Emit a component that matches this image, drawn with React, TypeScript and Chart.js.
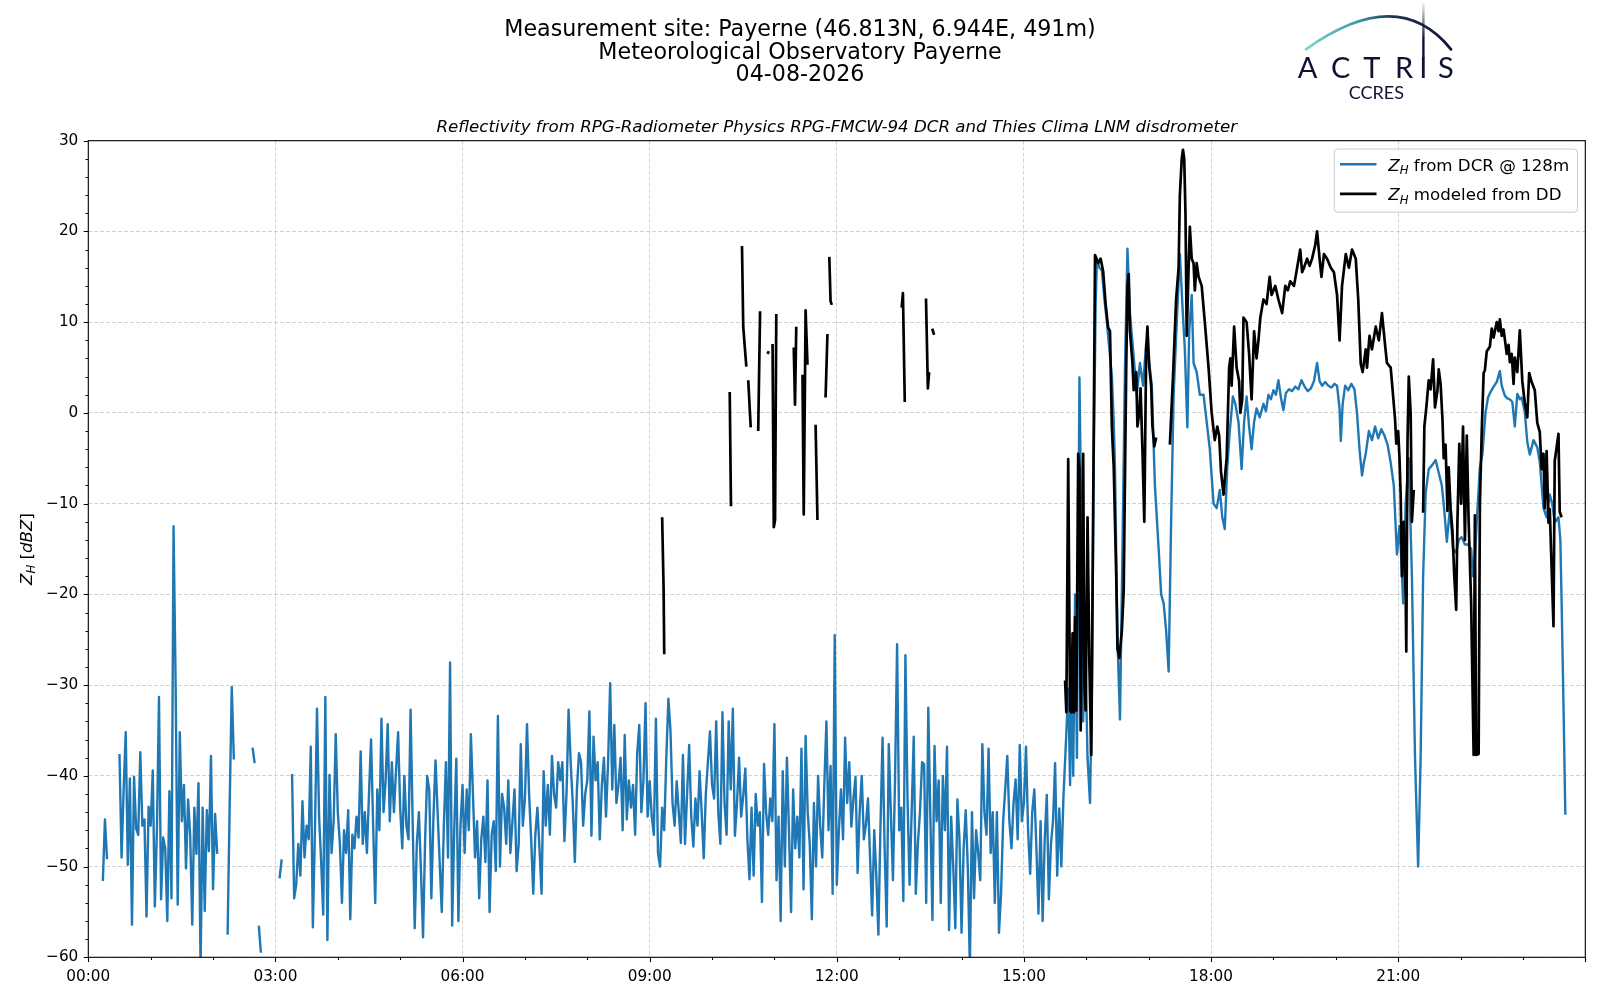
import React, { useEffect, useRef } from "react";
import { Chart, registerables } from "chart.js";

Chart.register(...registerables);

const FONT = "'DejaVu Sans', 'Liberation Sans', sans-serif";

const titleLines = [
  "Measurement site: Payerne (46.813N, 6.944E, 491m)",
  "Meteorological Observatory Payerne",
  "04-08-2026",
];
const subtitle =
  "Reflectivity from RPG-Radiometer Physics RPG-FMCW-94 DCR and Thies Clima LNM disdrometer";
const legendLabels = [" from DCR @ 128m", " modeled from DD"];
const xTickHours = ["00:00", "03:00", "06:00", "09:00", "12:00", "15:00", "18:00", "21:00"];

// DCR reflectivity at 128 m, regular 2-minute grid starting 00:00 (one array per hour)
const dcrH00 = [null, null, null, null, null, null, null, -51.6, -44.8, -49.2, null, null, null, null, null,
  -37.6, -49, -41.5, -35.2, -49.8, -40.3, -56.4, -40.1, -45.8, -46.5, -37.4, -45.5, -44.8, -55.5, -43.4];
const dcrH01 = [-45.5, -39.4, -54.4, -46, -31.3, -53.6, -46.8, -48, -56, -41.7, -53.5, -12.5, -29.9, -54.2, -35.2,
  -45, -41, -50.2, -42.6, -46.5, -56.4, -43.5, -48.6, -40.8, -61, -43.5, -54.9, -43.8, -48.3, -37.8];
const dcrH02 = [-52.5, -44.2, -48.6, null, null, null, null, -57.5, -43.2, -30.2, -38.2, null, null, null, null,
  null, null, null, null, -36.9, -38.6, null, -56.5, -59.5, null, null, null, null, null, null];
const dcrH03 = [null, null, -51.3, -49.2, null, null, null, null, -39.8, -53.5, -52, -47.5, -51, -42.8, -49,
  -45.5, -47, -36.8, -56.7, -46, -32.6, -44.5, -49.5, -55.3, -31.3, -58.1, -39.9, -48.5, -45, -35.4];
const dcrH04 = [-44, -47.5, -54, -46, -48.5, -43.8, -55.8, -46.5, -48, -44.5, -46.8, -37.3, -47.5, -44, -48.5,
  -42, -36, -45.5, -54, -41.5, -46, -33.7, -44, -40.5, -34.3, -45, -38.5, -44, -39.5, -35.2];
const dcrH05 = [-43.5, -48, -40, -45.5, -47, -32.7, -45, -56.8, -47.5, -44, -50.5, -57.8, -47, -40, -41.6,
  -53.5, -44.5, -38.3, -44, -49.5, -55, -45.5, -38.5, -49, -27.5, -56.5, -46, -38.1, -56, -45.5];
const dcrH06 = [-41, -48.5, -41.5, -46, -35.4, -42, -49, -45, -53.5, -47, -44.5, -49.5, -40.5, -55, -46.5,
  -45, -50.5, -33.4, -50, -42, -43.5, -47.5, -40.5, -48.5, -45, -41.5, -50.5, -47.5, -36.5, -45.5];
const dcrH07 = [-42.5, -34.3, -42, -47, -53, -46.5, -43.5, -48, -53, -39.5, -45.5, -41, -46.5, -37.8, -42,
  -43.5, -38.5, -40.5, -38.5, -47.2, -42, -32.7, -38.5, -43, -49.5, -41.5, -37.5, -38.5, -45.5, -42];
const dcrH08 = [-40.5, -32.9, -46.6, -35.7, -40.5, -38.5, -47, -41, -38, -44.5, -38.5, -29.8, -41.5, -34.4, -43,
  -41, -38, -46, -35.5, -44.8, -40.5, -43.5, -41, -46.5, -37.5, -34.4, -44, -40.5, -32, -44.5];
const dcrH09 = [-40.6, -44.5, -46.5, -33.7, -48.5, -50, -43.5, -46, -38, -31.5, -35, -43, -45.5, -40.6, -44,
  -47.4, -37.7, -47.5, -42, -36.6, -44.5, -47.8, -42.5, -45.5, -39.5, -44, -49.1, -42, -38.5, -35.1];
const dcrH10 = [-41, -42.5, -34, -44, -47.5, -33, -43, -46.5, -34, -41.5, -32.6, -46.6, -43, -38, -44.5,
  -42.2, -39.2, -47, -51.4, -43.5, -51, -42, -45.5, -44, -53.9, -38.7, -44, -46.5, -42.5, -45];
const dcrH11 = [-34.3, -51.5, -44.5, -56, -39.5, -50, -38, -46, -55, -41.5, -48, -44.5, -49, -37, -52.5,
  -35.6, -44, -47.5, -55.8, -43, -50, -40, -45.5, -49, -41, -34, -46, -38.9, -53, -24.5];
const dcrH12 = [-52, -46, -41.5, -47, -35.8, -43, -38.5, -45.6, -42.5, -40.1, -50.7, -44, -40, -47, -45.4,
  -42.5, -49, -55.4, -46, -51, -57.5, -45.6, -35.8, -48, -56.6, -36.5, -44, -51.5, -40.5, -25.5];
const dcrH13 = [-46, -43.5, -53.8, -26.7, -42.4, -52, -44, -35.7, -53, -47.5, -44, -38.5, -38.7, -54, -32.5,
  -44.5, -55.9, -36.7, -45, -40.5, -54, -40, -46, -36.8, -57, -44.5, -50, -56.8, -42.6, -47];
const dcrH14 = [-57.3, -48, -43.8, -50, -61, -44, -53.5, -46, -48.5, -51.5, -36.5, -44, -46.5, -37, -48.5,
  -44, -54, -44, -57.3, -53, -45, -41.5, -37.8, -45, -48, -43, -40.4, -47, -36.6, -45];
const dcrH15 = [-43, -36.8, -46, -50.8, -44, -41.5, -48, -55.2, -45, -56, -47, -42.1, -53.6, -47.5, -45,
  -38.6, -51, -43.6, -50, -42.4];

// DCR reflectivity during precipitation (minutes since 00:00, dBZ)
const dcrRainMin = [942.7, 944.4, 945.6, 947.4, 949.2, 951, 953.4, 955.2, 957, 958.8, 961.2, 963.6, 965.4, 967.2,
  969, 970.2, 972.6, 975, 977.4, 979.8, 982.2, 984.6, 986.4, 987.6, 990, 992.4, 994.8, 997.2, 999.6, 1002, 1005,
  1008.6, 1011.6, 1014.6, 1017.6, 1020.6, 1023, 1026, 1029.6, 1032, 1034.4, 1036.8, 1039.2, 1041.6, 1044, 1047,
  1050, 1052.4, 1054.8, 1057.2, 1059, 1061.4, 1063.2, 1066.2, 1069.2, 1072.8, 1075.8, 1078.8, 1082.4, 1085.4,
  1088.4, 1090.8, 1093.2, 1095.6, 1098, 1101, 1103.4, 1106.4, 1109.4, 1111.8, 1114.2, 1116.6, 1119, 1121.4,
  1123.8, 1126.8, 1130.4, 1132.8, 1135.2, 1137.6, 1140, 1142.4, 1144.8, 1147.2, 1149.6, 1152, 1155, 1158, 1161,
  1164, 1167, 1170, 1173, 1176, 1179, 1182, 1184.4, 1186.8, 1189.8, 1192.8, 1195.8, 1198.8, 1201.2, 1203.6,
  1204.8, 1206.6, 1209, 1212, 1215, 1218, 1220.4, 1222.8, 1225.2, 1227, 1228.8, 1231.8, 1234.8, 1237.8, 1240.8,
  1243.8, 1246.8, 1249.8, 1252.8, 1255.8, 1258.8, 1261.2, 1263, 1264.8, 1267.2, 1270.2, 1273.2, 1276.2, 1279.2,
  1281.6, 1284, 1286.4, 1289.4, 1293, 1296, 1299, 1302, 1304.4, 1306.8, 1309.8, 1312.8, 1315.8, 1318.2, 1321.2,
  1324.2, 1327.2, 1330.2, 1332, 1333.8, 1335.6, 1338.6, 1341, 1344, 1346.4, 1348.8, 1351.8, 1354.8, 1357.8,
  1359.6, 1362.6, 1365, 1367.4, 1369.8, 1372.2, 1374.6, 1377, 1378.8, 1381.8, 1384.2, 1386.6, 1390.2, 1393.8,
  1396.2, 1399.8, 1402.8, 1405.8, 1408.2, 1410.6, 1414.2, 1416, 1417.2, 1419, 1420.8];
const dcrRainZh = [-30.4, -41, -28, -40, -20, -38, 3.9, -12, -34, -25, -38, -43, -30, -5,
  12, 17, 16, 15.7, 12.5, 10, 7, 4, -1, -6, -25, -33.8, -15, 5, 18.1, 11, 7,
  2, 5.5, 3, 7.7, 5.5, 3, -8, -15, -20, -21, -24, -28.5, -12, 2, 10,
  17.5, 12, 7, -1.6, 9, 13, 5.5, 4.5, 2, 2, -1, -4, -10, -10.5,
  -8.5, -11.5, -12.8, -6, -2, 1.8, 1, -1, -6.2, -1, 1.8, -1.5, -4, -1,
  0.5, -0.5, 1, 0.2, 2, 1.5, 2.5, 2, 3.6, 1.7, 0.3, 2.2, 2.6, 2.4, 2.9,
  2.6, 3.6, 2.9, 2.4, 2.7, 3.5, 5.5, 3.5, 3, 3.4, 3, 2.8, 3.2, 3, 0.5,
  -3.1, 1, 3, 2.5, 3.2, 2.6, 0, -4, -6.9, -5.5, -4.5, -2, -3, -1.5, -2.8,
  -1.8, -2.5, -3.5, -5.5, -8, -15.6, -12.5, -16, -21, -10, -5, -18, -38, -50,
  -38, -18, -8.9, -6.2, -5.7, -5.2, -6.6, -8, -10.8, -14.2, -10.5, -15, -15.4, -14, -13.7,
  -14.5, -14.5, -15, -18, -16, -12, -6, -4.6, 0, 1.7, 2.3, 2.9, 3.4, 4.6,
  3, 1.9, 1.6, 1.5, 1.2, -1.5, 2.1, 1.5, 1.7, 0.1, -3.2, -4.6, -3, -3.8,
  -5.4, -10.5, -11.5, -9, -10, -12.1, -11.5, -14, -20.7, -32, -44.3];

// Reflectivity modeled from the disdrometer (minutes since 00:00, dBZ; null = no data)
const ddMorningMin = [552, 553.4, 554, 555, 617, 618.2, 619, 628.8, 630, 631.8, 633, 634, 634.8, 637.2, 638,
  644.4, 646.2, 647, 653.4, 654.6, 655, 658.2, 659.4, 660.6, 661.8, 662.5, 678.6, 679.8, 681, 682,
  687, 688.2, 690, 691.8, 692.5, 699.6, 701.4, 702, 709.2, 711, 711.8, 712.8, 714, 715.2, 716,
  782.4, 783.6, 785.4, 786, 805.8, 807.6, 808.8, 810, 811.8, 813.6];
const ddMorningZh = [-11.5, -19.4, -26.6, null, 2.3, -10.3, null, 18.4, 9.5, 6.8, 5.1, null, 3.6, -1.6, null,
  -2, 11.2, null, 6.5, 6.8, null, 7.6, -12.6, -11.8, 10.9, null, 7.2, 0.9, 9.5, null,
  4.2, -11.2, 11.3, 5.3, null, -1.3, -11.8, null, 1.7, 8.7, null, 17.2, 12.3, 11.9, null,
  11.6, 13.2, 1.2, null, 12.6, 2.7, 4.5, null, 9.3, 8.6];
const ddRainMin = [939.6, 940.8, 942.6, 944.4, 945.6, 946.8, 948, 949.2, 950.4, 952.2, 953.4, 954.6, 955.8, 957,
  958.2, 959.4, 961.2, 963, 964.8, 966, 968.4, 971.4, 973.8, 976.2, 978.6, 981, 982.8, 984.6, 986.4, 988.8,
  990, 991.8, 994.2, 996, 998.4, 999.6, 1000.8, 1002, 1004.4, 1005.6, 1008, 1009.2, 1011, 1012.2, 1014,
  1015.8, 1017.6, 1018.8, 1020.6, 1022.4, 1023.6, 1025.4, 1027.2, 1030, 1040.4, 1043.4, 1046.4, 1048.8, 1050,
  1051.8, 1053, 1054.2, 1055.4, 1056.6, 1058.4, 1059.6, 1061.4, 1063.2, 1064.4, 1066.2, 1068, 1071, 1074,
  1077.6, 1080.6, 1083.6, 1086, 1087.8, 1089.6, 1092, 1093.8, 1095, 1097.4, 1098.6, 1099.8, 1102.2, 1104.6,
  1107, 1108.2, 1110, 1111.2, 1114.2, 1116.6, 1119, 1121.4, 1123.8, 1125.6, 1127.4, 1130.4, 1133.4, 1136.4,
  1138.2, 1141.8, 1144.8, 1148.4, 1151.4, 1153.8, 1156.2, 1159.8, 1162.8, 1165.8, 1167.6, 1169.4, 1172.4,
  1174.8, 1177.2, 1180.2, 1182, 1184.4, 1186.2, 1188.6, 1191.6, 1195.2, 1198.2, 1201.2, 1203.6, 1206, 1209.6,
  1212.6, 1215.6, 1219.2, 1221.6, 1224, 1225.8, 1228.8, 1230, 1232.4, 1234.8, 1238.4, 1241.4, 1244.4, 1247.4,
  1249.2, 1252.8, 1254.6, 1257, 1258.2, 1260, 1261.2, 1262.4, 1263.6, 1265.4, 1267.2, 1267.8, 1269, 1270.2,
  1272, 1273.2, 1275, 1278, 1284, 1285.2, 1287, 1289.4, 1291.2, 1293.6, 1295.4, 1297.8, 1299, 1300.8, 1302.6,
  1303.8, 1305.6, 1307.4, 1308.6, 1310.4, 1312.2, 1314, 1315.8, 1317, 1318.8, 1320.6, 1322.4, 1324.2, 1326,
  1327.8, 1330.2, 1332.6, 1333.8, 1335, 1337.4, 1338.6, 1340.4, 1342.2, 1343.4, 1345.2, 1348.2, 1350, 1351.8,
  1353, 1354.8, 1356.6, 1357.8, 1359.6, 1361.4, 1364.4, 1366.2, 1367.4, 1369.2, 1371, 1372.2, 1374.6, 1377,
  1379.4, 1381.8, 1384.2, 1386, 1388.4, 1391.4, 1393.8, 1396.2, 1398, 1399.8, 1401, 1402.8, 1404.6, 1405.8,
  1409.4, 1410.6, 1412.4, 1414.2, 1415.4, 1417.2];
const ddRainZh = [-29.5, -33, -5.1, -32.8, -33, -24.3, -33, -22.5, -32.8, -4.5, -6, -35, -21, -4.5,
  -30, -32.8, -11.5, -28, -37.7, -20, 17.4, 16.5, 17, 15.6, 12, 9.4, 9, -1.6, -6, -18,
  -26, -27, -24, -19.5, 5, 14, 15.3, 9, 5.5, 2.5, 4.5, -1.5, 0, 2.7, -4,
  -12, 7, 9.5, 5, 3, -1.4, -3.7, -2.7, null, -3.5, 4, 12.5, 16, 24,
  28, 29, 28, 22, 8.5, 16, 20.5, 17, 16.5, 13.5, 16.5, 15, 14, 10,
  5, 0, -3, -1.5, -2.5, -6.5, -9, -6.5, -5, 5, 6, 3, 9.5, 5,
  3.5, 0, 1.5, 10.5, 10, 6.5, 1.5, 9, 6, 8, 10.5, 12.5, 12, 15,
  13, 14, 12.5, 11, 14, 13.5, 14.5, 14, 16, 18, 15.5, 16, 17,
  16.2, 17, 18.5, 20, 17, 15, 17.5, 17, 16, 15.5, 13, 8, 14, 17.5,
  16, 18, 17, 12.5, 5.4, 4.5, 7, 5, 8.5, 7, 9.5, 8, 11, 7.5,
  5.5, 5, 2.6, -0.7, -3.4, -2, -4.8, -9, -18, -12, -20, -26.3, -3, 4,
  0, -12, -8.5, null, -11, -1.5, 0.5, 3.6, 2.6, 5.9, 0.6, 2.5, 4.8, 3.2, -0.7,
  -5, -3.5, -10.8, -6, -10.5, -13, -18, -21.7, -12, -3.4, -10, -1.5, -14, -2.5,
  -12, -21, -37.7, -11.3, -37.7, -37.6, -10, -2, 4.4, 4.7, 6.8, 7.3, 9.3, 8.3,
  9, 10, 9, 10.3, 8.5, 9.2, 6.5, 7.5, 5.6, 6.5, 3.2, 6.1, 4.5, 9.1,
  3.5, 1.1, -0.5, 4.4, 3.4, 2.5, -1.1, -2.1, -6.2, -4.5, -10.5, -4.2, -12.1, -10.6,
  -23.5, -5.3, -3.8, -2.3, -10.9, -11.5];

const BLUE = "#1f77b4";
const NAVY = "#0f1233";

type Run = { t: string; f: string; dy?: number };

function runsWidth(ctx: CanvasRenderingContext2D, runs: Run[]) {
  let w = 0;
  for (const r of runs) {
    ctx.font = r.f;
    w += ctx.measureText(r.t).width;
  }
  return w;
}

function drawRuns(ctx: CanvasRenderingContext2D, runs: Run[], x: number, y: number) {
  let cx = x;
  for (const r of runs) {
    ctx.font = r.f;
    ctx.fillText(r.t, cx, y + (r.dy || 0));
    cx += ctx.measureText(r.t).width;
  }
}

const decorPlugin = {
  id: "decor",
  afterDraw(chart: any) {
    const { ctx, chartArea: a, scales } = chart;
    const xs = scales.x;
    const ys = scales.y;
    ctx.save();

    // frame
    ctx.strokeStyle = "#000";
    ctx.lineWidth = 1.1;
    ctx.setLineDash([]);
    ctx.strokeRect(a.left, a.top, a.right - a.left, a.bottom - a.top);

    // tick marks (major + minor)
    ctx.lineWidth = 1.1;
    ctx.beginPath();
    for (let m = 0; m <= 1440; m += 60) {
      const px = Math.round(xs.getPixelForValue(m)) + 0.5;
      const len = m % 180 === 0 ? 4.6 : 2.8;
      ctx.moveTo(px, a.bottom);
      ctx.lineTo(px, a.bottom + len);
    }
    for (let v = -60; v <= 30; v += 2) {
      const py = Math.round(ys.getPixelForValue(v)) + 0.5;
      const len = v % 10 === 0 ? 4.6 : 2.8;
      ctx.moveTo(a.left, py);
      ctx.lineTo(a.left - len, py);
    }
    ctx.stroke();

    // titles
    ctx.fillStyle = "#000";
    ctx.textBaseline = "alphabetic";
    ctx.textAlign = "center";
    ctx.font = `22.2px ${FONT}`;
    ctx.fillText(titleLines[0], 800, 36.2);
    ctx.fillText(titleLines[1], 800, 58.9);
    ctx.fillText(titleLines[2], 800, 81.3);
    ctx.font = `italic 16.67px ${FONT}`;
    ctx.fillText(subtitle, (a.left + a.right) / 2, 131.6);

    // y label: Z_H [dBZ]
    ctx.textAlign = "left";
    const yl: Run[] = [
      { t: "Z", f: `italic 16.67px ${FONT}` },
      { t: "H", f: `italic 11.7px ${FONT}`, dy: 3.6 },
      { t: " [", f: `16.67px ${FONT}` },
      { t: "dBZ", f: `italic 16.67px ${FONT}` },
      { t: "]", f: `16.67px ${FONT}` },
    ];
    ctx.save();
    ctx.translate(31.5, (a.top + a.bottom) / 2);
    ctx.rotate(-Math.PI / 2);
    const w = runsWidth(ctx, yl);
    drawRuns(ctx, yl, -w / 2, 0);
    ctx.restore();

    // legend
    const lx = 1334.3, ly = 149, lw = 243.2, lh = 63.2, r = 3.5;
    ctx.beginPath();
    ctx.moveTo(lx + r, ly);
    ctx.lineTo(lx + lw - r, ly);
    ctx.arcTo(lx + lw, ly, lx + lw, ly + r, r);
    ctx.lineTo(lx + lw, ly + lh - r);
    ctx.arcTo(lx + lw, ly + lh, lx + lw - r, ly + lh, r);
    ctx.lineTo(lx + r, ly + lh);
    ctx.arcTo(lx, ly + lh, lx, ly + lh - r, r);
    ctx.lineTo(lx, ly + r);
    ctx.arcTo(lx, ly, lx + r, ly, r);
    ctx.closePath();
    ctx.fillStyle = "rgba(255,255,255,0.8)";
    ctx.fill();
    ctx.strokeStyle = "#cccccc";
    ctx.lineWidth = 1;
    ctx.stroke();

    const rows = [
      { color: BLUE, lwid: 2.4, y: 164.3, base: 170.6, label: legendLabels[0] },
      { color: "#000000", lwid: 2.7, y: 193.8, base: 200.0, label: legendLabels[1] },
    ];
    for (const row of rows) {
      ctx.strokeStyle = row.color;
      ctx.lineWidth = row.lwid;
      ctx.beginPath();
      ctx.moveTo(1340, row.y);
      ctx.lineTo(1376.5, row.y);
      ctx.stroke();
      ctx.fillStyle = "#000";
      drawRuns(
        ctx,
        [
          { t: "Z", f: `italic 16.67px ${FONT}` },
          { t: "H", f: `italic 11.7px ${FONT}`, dy: 3.6 },
          { t: row.label, f: `16.67px ${FONT}` },
        ],
        1388.3,
        row.base
      );
    }

    // logo
    const g = ctx.createLinearGradient(1306, 0, 1451, 0);
    g.addColorStop(0, "#86d3cc");
    g.addColorStop(0.35, "#3f9ca6");
    g.addColorStop(0.6, "#1d3550");
    g.addColorStop(1, NAVY);
    ctx.strokeStyle = g;
    ctx.lineWidth = 2.8;
    ctx.lineCap = "round";
    ctx.beginPath();
    ctx.moveTo(1306, 49.3);
    ctx.quadraticCurveTo(1398, -16.5, 1451, 49.3);
    ctx.stroke();

    const sg = ctx.createLinearGradient(0, 1, 0, 40);
    sg.addColorStop(0, "rgba(15,18,51,0)");
    sg.addColorStop(1, "rgba(15,18,51,1)");
    ctx.fillStyle = sg;
    ctx.fillRect(1422.2, 1, 2.4, 57);

    ctx.fillStyle = NAVY;
    ctx.textAlign = "center";
    ctx.font = `400 29px Lato, ${FONT}`;
    const letters = [["A", 1307.5], ["C", 1340.8], ["T", 1371.7], ["R", 1404.2], ["I", 1423.4], ["S", 1445.8]];
    for (const [ch, x] of letters as [string, number][]) ctx.fillText(ch, x, 78.3);
    ctx.font = `400 18px Lato, ${FONT}`;
    ctx.fillText("CCRES", 1376.3, 99);

    ctx.restore();
  },
};

export default function App() {
  const ref = useRef<HTMLCanvasElement | null>(null);

  useEffect(() => {
    document.body.style.margin = "0";
    const canvas = ref.current;
    if (!canvas) return;

    const grid = [
      ...dcrH00, ...dcrH01, ...dcrH02, ...dcrH03, ...dcrH04, ...dcrH05, ...dcrH06, ...dcrH07,
      ...dcrH08, ...dcrH09, ...dcrH10, ...dcrH11, ...dcrH12, ...dcrH13, ...dcrH14, ...dcrH15,
    ];
    const dcrData = grid.map((v, i) => ({ x: i * 2, y: v }));
    dcrRainMin.forEach((m, i) => dcrData.push({ x: m, y: dcrRainZh[i] }));

    const ddData: { x: number; y: number | null }[] = [];
    ddMorningMin.forEach((m, i) => ddData.push({ x: m, y: ddMorningZh[i] }));
    ddData.push({ x: 900, y: null });
    ddRainMin.forEach((m, i) => ddData.push({ x: m, y: ddRainZh[i] }));

    const gridColor = "rgba(176,176,176,0.55)";

    const chart = new Chart(canvas, {
      type: "line",
      data: {
        datasets: [
          {
            label: "ZH modeled from DD",
            data: ddData as any,
            borderColor: "#000000",
            borderWidth: 2.7,
            pointRadius: 0,
            spanGaps: false,
            tension: 0,
            borderJoinStyle: "round",
            clip: 0 as any,
          },
          {
            label: "ZH from DCR @ 128m",
            data: dcrData as any,
            borderColor: BLUE,
            borderWidth: 2.4,
            pointRadius: 0,
            spanGaps: false,
            tension: 0,
            borderJoinStyle: "round",
            clip: 0 as any,
          },
        ],
      },
      options: {
        animation: false,
        responsive: false,
        events: [],
        parsing: true,
        layout: { padding: { left: 0, right: 14.7, top: 140.7, bottom: 0 } },
        plugins: { legend: { display: false }, tooltip: { enabled: false }, title: { display: false } },
        scales: {
          x: {
            type: "linear",
            min: 0,
            max: 1440,
            afterFit: (s: any) => {
              s.height = 42.7;
            },
            ticks: {
              stepSize: 180,
              autoSkip: false,
              maxRotation: 0,
              padding: 10.5,
              color: "#000",
              font: { family: FONT, size: 15.28 },
              callback: (v: any) => {
                const m = Number(v);
                if (m >= 1440) return "";
                const i = Math.round(m / 180);
                return xTickHours[i] ?? "";
              },
            },
            grid: { color: gridColor, lineWidth: 1, drawTicks: false },
            border: { display: false, dash: [4, 2] },
          },
          y: {
            type: "linear",
            min: -60,
            max: 30,
            afterFit: (s: any) => {
              s.width = 88.3;
            },
            ticks: {
              stepSize: 10,
              padding: 10,
              color: "#000",
              font: { family: FONT, size: 15.28 },
              callback: (v: any) => {
                const n = Number(v);
                return n < 0 ? "\u2212" + Math.abs(n) : String(n);
              },
            },
            grid: { color: gridColor, lineWidth: 1, drawTicks: false },
            border: { display: false, dash: [4, 2] },
          },
        },
      },
      plugins: [decorPlugin],
    });

    return () => chart.destroy();
  }, []);

  return (
    <div style={{ width: 1600, height: 1000, position: "relative", background: "#fff" }}>
      <canvas ref={ref} width={1600} height={1000} style={{ display: "block", width: 1600, height: 1000 }} />
    </div>
  );
}
